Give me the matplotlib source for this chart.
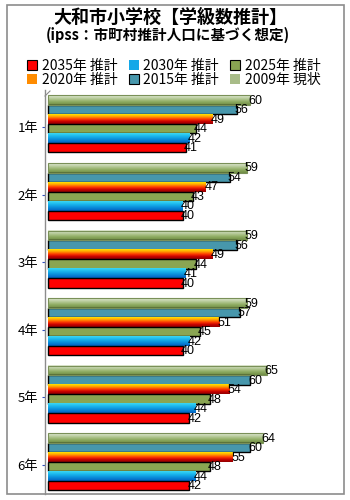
import numpy as np
import matplotlib
matplotlib.use("Agg")
import matplotlib.pyplot as plt
from matplotlib.patches import Patch, Rectangle
from matplotlib.lines import Line2D
from matplotlib.colors import LinearSegmentedColormap

plt.rcParams['font.family'] = ['Noto Sans CJK JP', 'DejaVu Sans']

# 学年ごとの学級数
grades = ["1年", "2年", "3年", "4年", "5年", "6年"]
series_names = ["2009年 現状", "2015年 推計", "2020年 推計", "2025年 推計", "2030年 推計", "2035年 推計"]
v2009 = [60, 59, 59, 59, 65, 64]
v2015 = [56, 54, 56, 57, 60, 60]
v2020 = [49, 47, 49, 51, 54, 55]
v2025 = [44, 43, 44, 45, 48, 48]
v2030 = [42, 40, 41, 42, 44, 44]
v2035 = [41, 40, 40, 40, 42, 42]
series_values = [v2009, v2015, v2020, v2025, v2030, v2035]

title = "大和市小学校【学級数推計】"
subtitle = "(ipss：市町村推計人口に基づく想定)"

W, H = 350, 500
fig = plt.figure(figsize=(W / 100, H / 100), dpi=100)
fig.patch.set_facecolor("white")

# outer chart frame
fig.add_artist(Rectangle((7 / W, 1 - 494 / H), (344 - 7) / W, (494 - 5) / H,
                         transform=fig.transFigure, fill=False,
                         edgecolor="#8c8c8c", linewidth=1.2))

ax_left, ax_right, ax_top, ax_bottom = 45, 340, 90, 494
ax = fig.add_axes([ax_left / W, 1 - ax_bottom / H,
                   (ax_right - ax_left) / W, (ax_bottom - ax_top) / H])

# bar styles: (flat colour or gradient stops, edge colour)
styles = [
    (["#e2ead6", "#b8cc9c", "#8fac62", "#6f8c44"], "#7a9058"),
    ("#4797ac", "#000000"),
    (["#ffe600", "#ffa000", "#ff3c00", "#c80000", "#900000"], None),
    ("#8aa552", "#000000"),
    (["#3cd8f4", "#18b4ec", "#0a8ad8", "#0060c0"], None),
    ("#ff0000", "#000000"),
]

y = np.arange(len(grades))
h = 0.1405
shift = -0.045
xmax = 86.8
xmin = -1.0

for i, (vals, (col, ec)) in enumerate(zip(series_values, styles)):
    pos = y + shift + (i - 2.5) * h
    if isinstance(col, list):
        bars = ax.barh(pos, vals, height=h, color=col[len(col) // 2],
                       edgecolor="none", zorder=2)
        cmap = LinearSegmentedColormap.from_list(f"g{i}", col)
        grad = np.linspace(0, 1, 64).reshape(-1, 1)
        for b in bars:
            x0, y0 = b.get_x(), b.get_y()
            ax.imshow(grad, cmap=cmap, aspect="auto", origin="upper",
                      extent=(x0, x0 + b.get_width(), y0 + h, y0),
                      zorder=3, interpolation="bilinear")
            if ec:
                ax.add_patch(Rectangle((x0, y0), b.get_width(), h, fill=False,
                                       edgecolor=ec, linewidth=0.8, zorder=4))
    else:
        ax.barh(pos, vals, height=h, color=col, edgecolor=ec,
                linewidth=1.0, zorder=3)
    for p, v in zip(pos, vals):
        ax.text(v - 0.6, p + 0.01, str(v), ha="left", va="center",
                fontsize=9, family=["Liberation Sans", "DejaVu Sans"],
                color="black", zorder=5)

ax.set_xlim(xmin, xmax)
ax.set_ylim(5.43, -0.547)
ax.set_yticks(y)
ax.set_yticklabels(grades, fontsize=9.5)
ax.tick_params(axis="y", length=2, color="#3050c0", pad=3)
ax.set_xticks([])
for s in ["top", "right", "bottom"]:
    ax.spines[s].set_visible(False)
ax.spines["left"].set_color("#8c8c8c")
ax.spines["left"].set_linewidth(1.0)
ax.patch.set_alpha(0)

# 3D wall edge at the top-left corner
fig.add_artist(Line2D([45 / W, 50 / W], [1 - 96 / H, 1 - 91 / H],
                      transform=fig.transFigure, color="#8c8c8c", linewidth=0.8))

fig.text(170 / W, 1 - 17 / H, title, ha="center", va="center",
         fontsize=13, fontweight="bold")
fig.text(168 / W, 1 - 35 / H, subtitle, ha="center", va="center",
         fontsize=10.5, fontweight="bold")

# legend: row-wise 2035, 2030, 2025 / 2020, 2015, 2009
handles = {
    "2035年 推計": Patch(facecolor="#ff0000", edgecolor="black", linewidth=0.8),
    "2030年 推計": Patch(facecolor="#14a8e8", edgecolor="none"),
    "2025年 推計": Patch(facecolor="#8aa552", edgecolor="black", linewidth=0.8),
    "2020年 推計": Patch(facecolor="#ff8c00", edgecolor="none"),
    "2015年 推計": Patch(facecolor="#4797ac", edgecolor="black", linewidth=0.8),
    "2009年 現状": Patch(facecolor="#a8bc88", edgecolor="none"),
}
order = ["2035年 推計", "2020年 推計", "2030年 推計", "2015年 推計", "2025年 推計", "2009年 現状"]
fig.legend([handles[k] for k in order], order, ncol=3, frameon=False,
           loc="center", bbox_to_anchor=(174 / W, 1 - 73 / H),
           fontsize=10, handlelength=0.7, handleheight=0.7,
           handletextpad=0.35, columnspacing=0.8, labelspacing=0.0,
           borderpad=0)

fig.savefig("out.png", dpi=100, facecolor="white")
